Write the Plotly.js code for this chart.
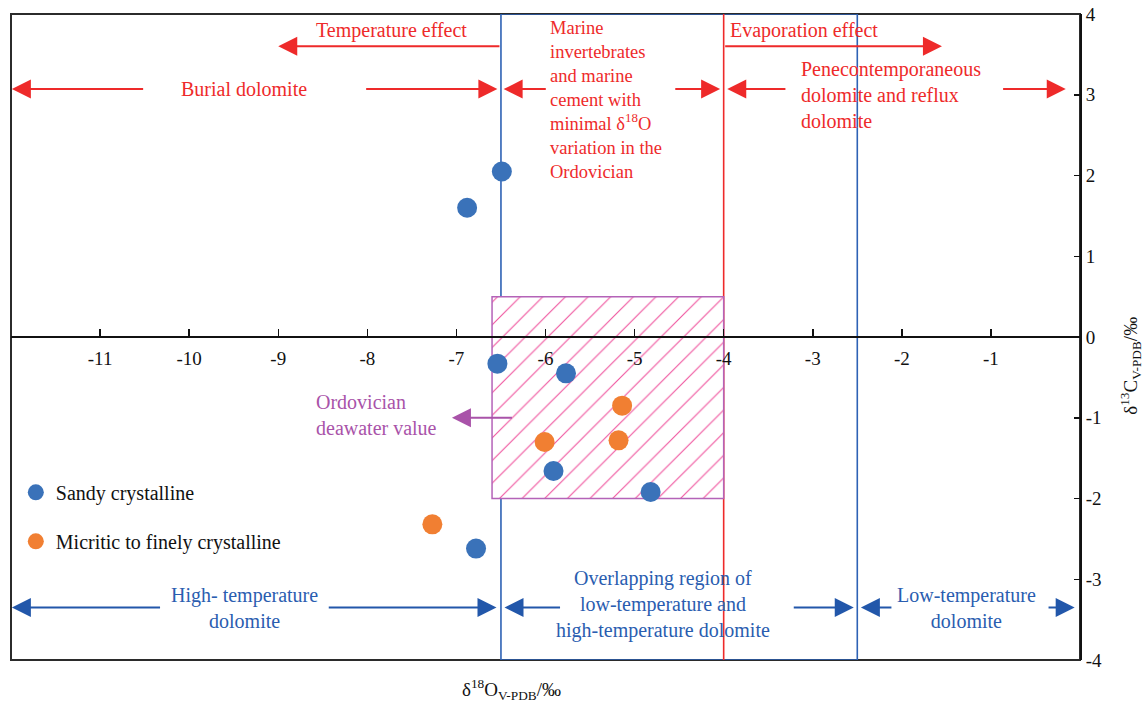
<!DOCTYPE html>
<html>
<head>
<meta charset="utf-8">
<script src="https://cdn.plot.ly/plotly-3.0.1.min.js"></script>
<style>html,body{margin:0;padding:0;background:#fff;}#chart{width:1144px;height:702px;}</style>
</head>
<body>
<div id="chart"></div>
<script>
// ---- data ----
const sandyName = "Sandy crystalline";
const sandyO = [-6.49, -6.88, -6.54, -5.77, -5.91, -4.82, -6.78];
const sandyC = [2.05, 1.60, -0.33, -0.45, -1.66, -1.92, -2.62];
const micriticName = "Micritic to finely crystalline";
const micriticO = [-5.14, -6.01, -5.18, -7.27];
const micriticC = [-0.85, -1.30, -1.28, -2.32];

const xTicks = [-11, -10, -9, -8, -7, -6, -5, -4, -3, -2, -1];
const yTicks = [-4, -3, -2, -1, 0, 1, 2, 3, 4];

// region boundaries (δ18O, ‰)
const highTempLimit = -6.5;
const lowTempLimit = -2.5;
const evaporationLimit = -4;
// Ordovician seawater box
const seawaterO = [-6.6, -4.0];
const seawaterC = [-2.0, 0.5];

// label texts
const redLabels = {
  temp: "Temperature effect",
  evap: "Evaporation effect",
  burial: "Burial dolomite",
  marine: "Marine<br>invertebrates<br>and marine<br>cement with<br>minimal δ<sup>18</sup>O<br>variation in the<br>Ordovician",
  pene: "Penecontemporaneous<br>dolomite and reflux<br>dolomite"
};
const blueLabels = {
  high: "High- temperature<br>dolomite",
  overlap: "Overlapping region of<br>low-temperature and<br>high-temperature dolomite",
  low: "Low-temperature<br>dolomite"
};
const seawaterLabel = "Ordovician<br>deawater value";
const xTitle = "δ<sup>18</sup>O<sub>V-PDB</sub>/‰";
const yTitle = "δ<sup>13</sup>C<sub>V-PDB</sub>/‰";

// ---- styles ----
const FONT = "Liberation Serif, Times New Roman, serif";
const RED = "#ee2a2a";
const BLUE = "#2a5db0";
const BLUE_ARROW = "#2257aa";
const PURPLE = "#a953a9";
const BOXLINE = "#b463b8";

const traces = [
  {
    type: "bar",
    x: [(seawaterO[0] + seawaterO[1]) / 2],
    y: [seawaterC[1] - seawaterC[0]],
    base: [seawaterC[0]],
    width: [seawaterO[1] - seawaterO[0]],
    marker: {
      color: "white",
      line: {color: BOXLINE, width: 1.5},
      pattern: {shape: "/", fgcolor: "#f0549e", bgcolor: "white", size: 16, solidity: 0.07}
    },
    showlegend: false,
    hoverinfo: "skip"
  },
  {
    type: "scatter", mode: "markers", name: sandyName, legendgroup: "a",
    x: sandyO, y: sandyC,
    marker: {color: "#3a72b9", size: 20}
  },
  {
    type: "scatter", mode: "markers", name: micriticName, legendgroup: "b",
    x: micriticO, y: micriticC,
    marker: {color: "#f17f32", size: 20}
  }
];

function txt(text, x, y, color, opts) {
  return Object.assign({
    text: text, x: x, y: y, xref: "x", yref: "y", showarrow: false,
    font: {family: FONT, size: 20, color: color},
    xanchor: "center", yanchor: "middle", align: "center"
  }, opts || {});
}
function arrow(tailX, headX, y, color) {
  return {
    text: "", x: headX, y: y, ax: tailX, ay: y, xref: "x", yref: "y",
    axref: "x", ayref: "y", showarrow: true, arrowhead: 2, arrowsize: 1.9,
    arrowwidth: 2, arrowcolor: color, standoff: 0, startstandoff: 0
  };
}

const yTop = 3.6, yMid = 3.07, yBot = -3.35;
const annotations = [
  txt(redLabels.temp, -7.73, 3.8, RED),
  txt(redLabels.evap, -3.1, 3.8, RED),
  txt(redLabels.burial, -9.38, yMid, RED),
  txt(redLabels.marine, -5.97, 2.94, RED, {xanchor: "left", align: "left", font: {family: FONT, size: 18.5, color: RED}}),
  txt(redLabels.pene, -3.15, 3.0, RED, {xanchor: "left", align: "left"}),
  arrow(highTempLimit, -9.0, yTop, RED),
  arrow(evaporationLimit, -1.55, yTop, RED),
  arrow(-10.5, -11.99, yMid, RED),
  arrow(-8.03, -6.54, yMid, RED),
  arrow(-5.98, -6.47, yMid, RED),
  arrow(-4.56, -4.04, yMid, RED),
  arrow(-3.29, -3.96, yMid, RED),
  arrow(-0.88, -0.16, yMid, RED),

  txt(blueLabels.high, -9.38, -3.36, BLUE),
  txt(blueLabels.overlap, -4.68, -3.31, BLUE),
  txt(blueLabels.low, -1.27, -3.36, BLUE),
  arrow(-10.31, -11.99, yBot, BLUE_ARROW),
  arrow(-8.45, -6.55, yBot, BLUE_ARROW),
  arrow(-5.82, -6.46, yBot, BLUE_ARROW),
  arrow(-3.23, -2.54, yBot, BLUE_ARROW),
  arrow(-2.10, -2.46, yBot, BLUE_ARROW),
  arrow(-0.37, -0.06, yBot, BLUE_ARROW),

  txt(seawaterLabel, -8.60, -0.97, PURPLE, {xanchor: "left", align: "left"}),
  arrow(-6.36, -7.05, -1.0, PURPLE),

  {text: xTitle, x: -6.385, y: -0.046, xref: "x", yref: "paper", showarrow: false,
   font: {family: FONT, size: 19, color: "#111"}, xanchor: "center", yanchor: "middle"},
  {text: yTitle, x: 1.0465, y: -0.36, xref: "paper", yref: "y", showarrow: false, textangle: -90,
   font: {family: FONT, size: 19, color: "#111"}, xanchor: "center", yanchor: "middle"}
];

const shapes = [
  {type: "rect", xref: "paper", yref: "paper", x0: 0, x1: 1, y0: 0, y1: 1,
   line: {color: "#2b2b2b", width: 2}, layer: "below"},
  {type: "rect", xref: "x", yref: "y", x0: highTempLimit, x1: lowTempLimit, y0: -4, y1: 4,
   line: {color: "#2e62b5", width: 1.6}, layer: "below"},
  {type: "line", xref: "x", yref: "y", x0: evaporationLimit, x1: evaporationLimit, y0: -4, y1: 4,
   line: {color: RED, width: 1.6}, layer: "below"}
];

const layout = {
  width: 1144, height: 702,
  margin: {l: 11, r: 64, t: 14, b: 42},
  paper_bgcolor: "white", plot_bgcolor: "white",
  font: {family: FONT, size: 19, color: "#111"},
  showlegend: true,
  legend: {
    x: 0.0045, y: 0.2897, xanchor: "left", yanchor: "top",
    bgcolor: "rgba(0,0,0,0)", font: {family: FONT, size: 20, color: "#111"},
    tracegroupgap: 20, itemsizing: "trace"
  },
  xaxis: {
    range: [-12, 0], tickvals: xTicks, ticktext: xTicks.map(String),
    anchor: "free", position: 0.5, side: "bottom",
    ticks: "inside", ticklen: 7, tickwidth: 1.5, tickcolor: "#111",
    showline: true, linecolor: "#111", linewidth: 2,
    showgrid: false, zeroline: false, ticklabelstandoff: 4,
    tickfont: {family: FONT, size: 19, color: "#111"}
  },
  yaxis: {
    range: [-4, 4], tickvals: yTicks, ticktext: yTicks.map(String),
    side: "right", ticks: "inside", ticklen: 6, tickwidth: 1.5, tickcolor: "#111",
    showline: true, linecolor: "#111", linewidth: 2,
    showgrid: false, zeroline: false,
    tickfont: {family: FONT, size: 19, color: "#111"}
  },
  annotations: annotations,
  shapes: shapes
};

Plotly.newPlot("chart", traces, layout, {staticPlot: true, displayModeBar: false});
</script>
</body>
</html>
